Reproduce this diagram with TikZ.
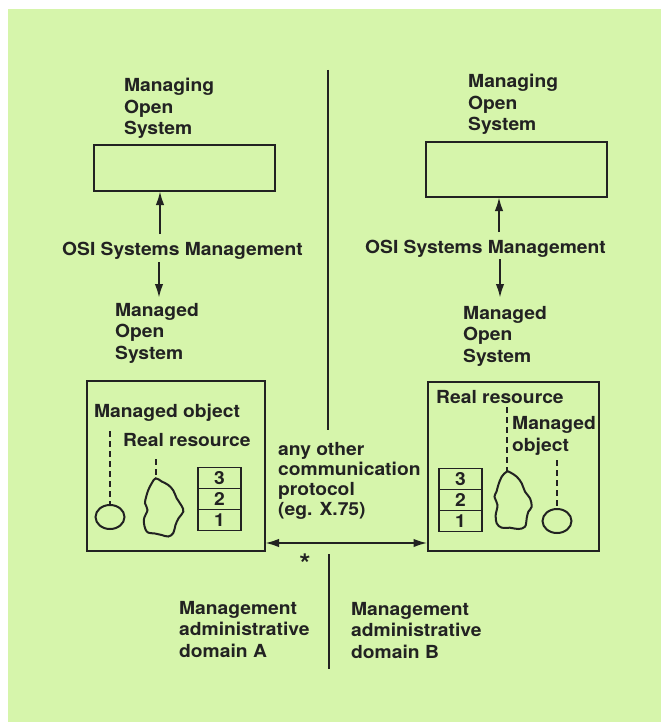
\documentclass[tikz,border=0pt]{standalone}
\usepackage{fontspec}
\setmainfont{TeX Gyre Heros}[FakeStretch=1.07]
\usetikzlibrary{arrows.meta,shapes.geometric}

\definecolor{paper}{RGB}{214,245,171}
\definecolor{ink}{RGB}{34,34,34}

% multi-line labels are placed by the baseline of their last line
\tikzset{
  lbl/.style={anchor=base west, align=left, inner sep=0pt, text=ink,
    font=\fontsize{18}{21.5}\selectfont\bfseries},
  frame/.style={draw=ink, line width=2.4pt, inner sep=0pt},
  layer/.style={draw=ink, line width=1.5pt, minimum width=43pt, minimum height=21pt,
    inner sep=0pt, text=ink, font=\fontsize{18}{20}\selectfont\bfseries},
  link/.style={ink, line width=1.7pt, dash pattern=on 6pt off 4pt},
  arr/.style={ink, line width=2.2pt, -{Latex[length=14pt,width=8.5pt]}},
  biarr/.style={ink, line width=2.2pt, {Latex[length=14pt,width=8.5pt]}-{Latex[length=14pt,width=8.5pt]}},
  divider/.style={ink, line width=2.4pt},
  blob/.style={draw=ink, line width=2pt},
  mobj/.style={draw=ink, line width=2pt, ellipse, minimum width=29pt, minimum height=24pt, inner sep=0pt}
}

\begin{document}
\begin{tikzpicture}[x=1pt, y=-1pt]
  \useasboundingbox (0,0) rectangle (661,722);
  % sheet
  \fill[white] (0,0) rectangle (661,722);
  \fill[paper] (8,9) rectangle (661,722);

  % domain boundary
  \coordinate (dTop) at (328,70);
  \coordinate (dMid) at (328,430);
  \coordinate (dLow) at (329,554);
  \coordinate (dBot) at (329,669);
  \draw[divider] (dTop) -- (dMid);
  \draw[divider] (dLow) -- (dBot);

  % ---------- domain A ----------
  \node[lbl] (mgA) at (124,135) {Managing\\Open\\System};
  \node[frame, minimum width=181pt, minimum height=46pt] (boxMA) at (184.5,168) {};
  \node[lbl] (osiA) at (62,255) {OSI Systems Management};
  \node[lbl] (mdA) at (115,359) {Managed\\Open\\System};
  \coordinate (upA0) at (160,234);
  \coordinate (upA1) at (160,191);
  \coordinate (dnA0) at (159,262);
  \coordinate (dnA1) at (159,298);
  \draw[arr] (upA0) -- (upA1);
  \draw[arr] (dnA0) -- (dnA1);

  \node[frame, minimum width=178pt, minimum height=170pt] (boxSA) at (176,466) {};
  \node[lbl] (moA) at (94,417) {Managed object};
  \node[lbl] (rrA) at (123,446) {Real resource};
  \node[mobj] (ellA) at (110,517) {};
  \coordinate (moAtop) at (110,431);
  \draw[link] (moAtop) -- (ellA.north);
  \draw[blob] plot[smooth cycle, tension=0.6] coordinates {
    (155.7,478.3) (151.7,483.3) (148.3,490) (146.2,496.7) (145,503.3) (147.5,510)
    (143.8,520) (146.7,531.5) (155,533.5) (161.7,535) (168.3,536.5) (173.3,533)
    (175.5,525) (178.5,518.3) (183.3,511.7) (181.7,506) (176.7,498.3) (173.3,490.5)
    (168.3,485) (161.7,481.5)};
  \coordinate (rrAtop) at (156,459);
  \coordinate (rrAbot) at (156,478);
  \draw[link] (rrAtop) -- (rrAbot);
  \node[layer] (a3) at (219.5,478) {3};
  \node[layer] (a2) at (219.5,499) {2};
  \node[layer] (a1) at (219.5,520) {1};

  % ---------- domain B ----------
  \node[lbl] (mgB) at (468,131) {Managing\\Open\\System};
  \node[frame, minimum width=181pt, minimum height=55pt] (boxMB) at (516.5,169.5) {};
  \node[lbl] (osiB) at (365,253) {OSI Systems Management};
  \node[lbl] (mdB) at (463,362) {Managed\\Open\\System};
  \coordinate (upB0) at (499,232);
  \coordinate (upB1) at (499,197);
  \coordinate (dnB0) at (500,259);
  \coordinate (dnB1) at (500,298);
  \draw[arr] (upB0) -- (upB1);
  \draw[arr] (dnB0) -- (dnB1);

  \node[frame, minimum width=171pt, minimum height=169pt] (boxSB) at (513.5,466.5) {};
  \node[lbl] (rrB) at (436,403) {Real resource};
  \node[lbl] (moB) at (512,451) {Managed\\object};
  \node[mobj] (ellB) at (557,521) {};
  \coordinate (moBtop) at (557,460);
  \draw[link] (moBtop) -- (ellB.north);
  \draw[blob] plot[smooth cycle, tension=0.6] coordinates {
    (506.7,471.7) (501.7,476.7) (498.3,485) (496.5,491.7) (494.5,496.7) (497.5,505)
    (495.7,515) (496.7,523.3) (501.7,527.7) (510,527.7) (518.3,529) (525,526.7)
    (526.7,518.3) (528.3,511.7) (531.7,506.7) (530,498.3) (525,491.7) (521.7,483.3)
    (516.7,476.7) (510,472.3)};
  \coordinate (rrBtop) at (507,407);
  \coordinate (rrBbot) at (507,471);
  \draw[link] (rrBtop) -- (rrBbot);
  \node[layer] (b3) at (460.5,479) {3};
  \node[layer] (b2) at (460.5,500) {2};
  \node[layer] (b1) at (460.5,521) {1};

  % ---------- between the domains ----------
  \node[lbl, font=\fontsize{18}{19.7}\selectfont\bfseries] (proto) at (278,515)
    {any other\\communication\\protocol\\(eg. X.75)};
  \coordinate (pA) at (265,543);
  \coordinate (pB) at (427.5,543);
  \draw[biarr] (pA) -- (pB);
  \node[text=ink, inner sep=0pt, font=\fontsize{27}{28}\selectfont\bfseries] (star) at (305,564) {*};

  \node[lbl] (domA) at (179,657) {Management\\administrative\\domain A};
  \node[lbl] (domB) at (351,658) {Management\\administrative\\domain B};
\end{tikzpicture}
\end{document}
